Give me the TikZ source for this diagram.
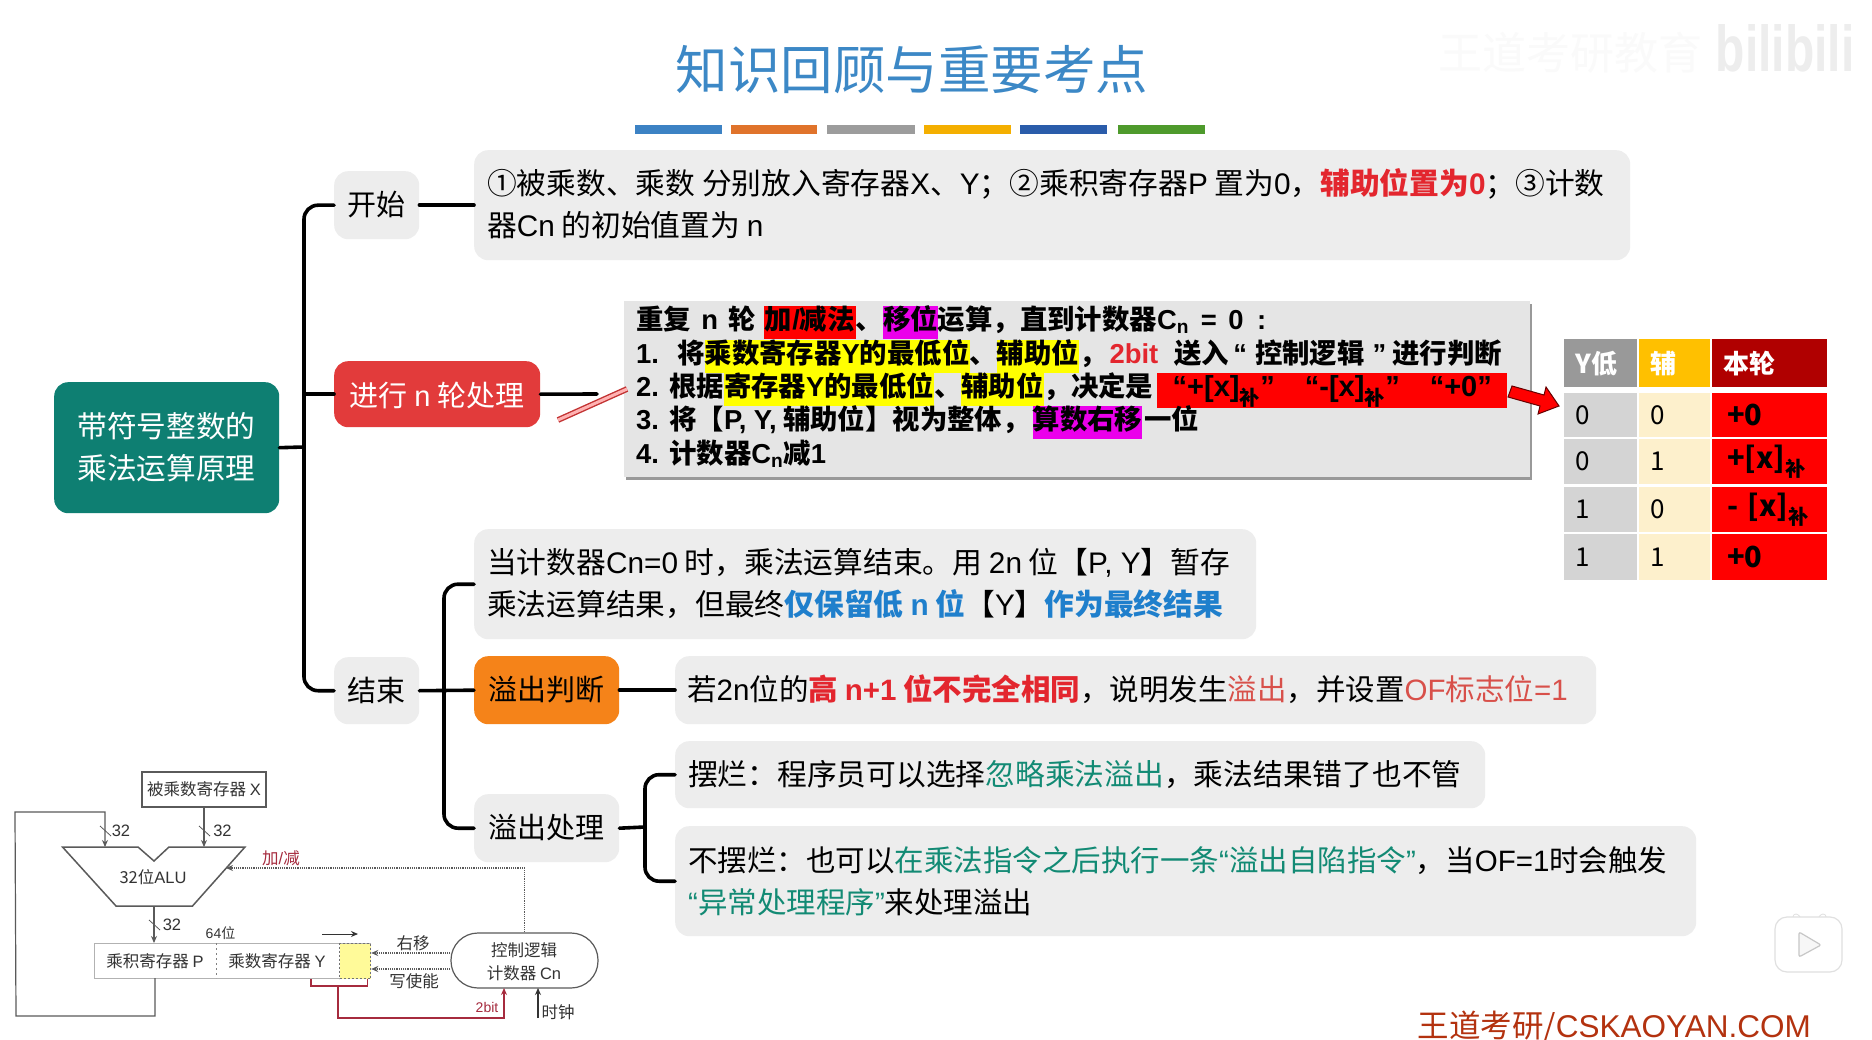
\documentclass[tikz,border=0pt]{standalone}
\usepackage{fontspec}
\usepackage{graphicx}
\setmainfont{Noto Sans CJK SC}
\newfontfamily\liber{Liberation Sans}
\usetikzlibrary{arrows.meta,calc}
\definecolor{tealbox}{HTML}{0E7F72}
\definecolor{greybox}{HTML}{EDEDED}
\definecolor{redbox}{HTML}{E23B3B}
\definecolor{orangebox}{HTML}{F58319}
\definecolor{titleblue}{HTML}{3C88C6}
\definecolor{txtred}{HTML}{E3262E}
\definecolor{softred}{HTML}{D8504A}
\definecolor{txtblue}{HTML}{1F7FCC}
\definecolor{txtgreen}{HTML}{128A74}
\definecolor{darkred}{HTML}{A62B3E}
\definecolor{linegrey}{HTML}{5A5A5A}
\definecolor{footred}{HTML}{B3320F}
\definecolor{mgt}{RGB}{235,0,235}
\definecolor{hlred}{RGB}{255,0,0}
\definecolor{hlyel}{RGB}{255,255,0}
\definecolor{goldhead}{HTML}{FFC000}
\definecolor{goldcell}{HTML}{FDF0CC}
\definecolor{redhead}{HTML}{B00000}
\newcommand\fs[1]{\fontsize{#1}{#1}\selectfont}
\newcommand\hl[2]{{\setlength{\fboxsep}{0pt}\colorbox{#1}{\vrule width 0pt height 24pt depth 9pt #2}}}
\newcommand\bsub[1]{\textsubscript{#1}}
\newcommand\lat[1]{{\liber #1}}
\newcommand\hs[1]{\hspace{#1pt}}
\tikzset{
  conn/.style={line width=3.6pt,black,rounded corners=14pt,line cap=round},
  mbox/.style={anchor=north west,inner sep=0pt,rounded corners=14pt},
  boxtxt/.style={font=\fs{29},text=black,inner sep=0pt},
  linetxt/.style={anchor=base west,font=\fs{29.5},text=black,inner sep=0pt},
  linetxtb/.style={anchor=base west,font=\fs{29.75},text=black,inner sep=0pt},
  boldline/.style={anchor=base west,font=\fs{27.4}\bfseries,text=black,inner sep=0pt},
  cellsty/.style={anchor=north west,inner ysep=0pt,inner xsep=11pt,align=left,font=\fs{26}},
  barsty/.style={anchor=north west,inner sep=0pt,minimum height=9pt},
  thin line/.style={linegrey,line width=1.2pt},
  dot line/.style={linegrey,line width=1.2pt,densely dotted},
  tip/.style={-{Stealth[length=7pt,width=6pt]}},
  small/.style={font=\fs{16.5},text=black!80,inner sep=0pt},
  slash/.style={linegrey,line width=.8pt},
}
\begin{document}
\begin{tikzpicture}[x=1pt,y=-1pt]
\useasboundingbox (0,0) rectangle (1872,1040);
\fill[white] (0,0) rectangle (1872,1040);
% title
\node[font=\fs{52.5},text=titleblue,inner sep=0pt] (title) at (912,70) {知识回顾与重要考点};
\foreach \n/\a/\w/\c in {b1/635/87/3C82C4,b2/731/86/E0732B,b3/827/88/9C9C9C,b4/924/87/F4AF00,b5/1020/87/2A5CAA,b6/1118/87/4E9A2C}{
  \definecolor{tmpc}{HTML}{\c}
  \node[barsty,fill=tmpc,minimum width=\w pt] (\n) at (\a,125) {};
}
% watermark
\node[font=\fs{44},text=black!2,inner sep=0pt] (wm0) at (1570,53) {王道考研教育};
\node[font=\fs{48}\bfseries\liber,text=black!7,inner sep=0pt] (wm) at (1785,48) {\scalebox{1}[1.35]{bilibili}};
% boxes
\node[mbox,fill=tealbox,minimum width=225pt,minimum height=131pt] (root) at (54,382) {};
\node[font=\fs{29.7},text=white,align=center,inner sep=0pt] (roott) at (166.5,447) {带符号整数的\\[12pt]乘法运算原理};
\node[mbox,fill=greybox,minimum width=85pt,minimum height=68pt] (start) at (334,171) {};
\node[boxtxt] (startt) at (376.5,205) {开始};
\node[mbox,fill=greybox,minimum width=1156pt,minimum height=110pt] (startb) at (474,150) {};
\node[linetxtb] (s1) at (487,195) {①被乘数、乘数 分别放入寄存器\lat{X}、\lat{Y}；②乘积寄存器\lat{P} 置为\lat{0}，\textbf{\textcolor{txtred}{辅助位置为\lat{0}}}；③计数};
\node[linetxtb] (s2) at (487,237) {器\lat{Cn} 的初始值置为 \lat{n}};
\node[mbox,fill=redbox,minimum width=206pt,minimum height=66pt] (round) at (334,361) {};
\node[boxtxt,text=white] (roundt) at (437,395) {进行 \lat{n} 轮处理};
% grey panel
\fill[black!40] (626,304) rectangle (1532,480);
\node[anchor=north west,inner sep=0pt,fill=black!10,minimum width=906pt,minimum height=176pt] (panel) at (624,301) {};
\node[boldline] (p1) at (636,330) {重复\hs{4} \lat{n}\hs{4} 轮\hs{2} \hl{hlred}{\hs{1}加\lat{/}减法\hs{1}}、\hl{mgt}{移位}运算，直到计数器\lat{C\bsub{n}\hs{4} =\hs{4} 0\hs{6} :}};
\node[boldline] (p2) at (636,364) {\lat{1.\ \ }\hs{3}将\hl{hlyel}{乘数寄存器\lat{Y}的最低位}、\hl{hlyel}{辅助位}，\hs{3}\textcolor{txtred}{\lat{2bit}}\hs{10} 送入\hs{4}\lat{“}\hs{8}控制逻辑\hs{8}\lat{”}\hs{6}进行判断};
\node[boldline] (p3) at (636,397) {\lat{2. }根据\hl{hlyel}{寄存器\lat{Y}的最低位}、\hl{hlyel}{辅助位}，决定是\hs{4}\hl{hlred}{\makebox[350pt][c]{\fs{29}\lat{“+[x]}\bsub{补}\lat{”\hs{30}“-[x]}\bsub{补}\lat{”\hs{30}“+0”}}}};
\node[boldline] (p4) at (636,430) {\lat{3. }将【\lat{P, Y,} 辅助位】视为整体，\hs{3}\hl{mgt}{算数右移}\hs{2}一位};
\node[boldline] (p5) at (636,464) {\lat{4. }计数器\lat{C\bsub{n}}减\lat{1}};
% table
\node[cellsty,fill=black!40,text=white,minimum height=48pt,text width=51pt] (c00) at (1564,339) {\textbf{Y低}};
\node[cellsty,fill=goldhead,text=white,minimum height=48pt,text width=49pt] (c01) at (1639,339) {\textbf{辅}};
\node[cellsty,fill=redhead,text=white,minimum height=48pt,text width=93pt] (c02) at (1712,339) {\textbf{本轮}};
\foreach \r/\y/\h/\a/\b/\t in {1/393/44/0/0/{+0},2/439/45/0/1/{+[x]\bsub{补}},3/487/45/1/0/{- [x]\bsub{补}},4/534/46/1/1/{+0}}{
  \node[cellsty,fill=black!17,minimum height=\h pt,text width=51pt] (a\r) at (1564,\y) {\a};
  \node[cellsty,fill=goldcell,minimum height=\h pt,text width=49pt] (b\r) at (1639,\y) {\b};
  \node[cellsty,inner xsep=15pt,fill=hlred,minimum height=\h pt,text width=85pt,font=\fs{29}\bfseries] (d\r) at (1712,\y) {\t};
}
% red fat arrow
\draw[black!60!red,fill=hlred,line width=1pt] (1512,386) -- (1544,395) -- (1546,387) -- (1559,406) -- (1538,414) -- (1540,406) -- (1508,397) -- cycle;
% finish
\node[mbox,fill=greybox,minimum width=85pt,minimum height=67pt] (finish) at (334,657) {};
\node[boxtxt] (finisht) at (376.5,690) {结束};
\node[mbox,fill=greybox,minimum width=782pt,minimum height=110pt] (endb) at (474,529) {};
\node[linetxtb] (e1) at (487,573) {当计数器\lat{Cn=0} 时，乘法运算结束。用 \lat{2n} 位【\lat{P, Y}】暂存};
\node[linetxtb] (e2) at (487,615) {乘法运算结果，但最终\textbf{\textcolor{txtblue}{仅保留低 \lat{n} 位}}【\lat{Y}】\textbf{\textcolor{txtblue}{作为最终结果}}};
\node[mbox,fill=orangebox,minimum width=145pt,minimum height=68pt] (ovj) at (474,656) {};
\node[boxtxt] (ovjt) at (546.5,690) {溢出判断};
\node[mbox,fill=greybox,minimum width=921pt,minimum height=68pt] (ovjb) at (675,656) {};
\node[linetxt] (oj) at (687,700) {若\lat{2n}位的\textbf{\textcolor{txtred}{高 \lat{n+1} 位不完全相同}}，说明发生\textcolor{softred}{溢出}，并设置\textcolor{softred}{\lat{OF}标志位\lat{=1}}};
\node[mbox,fill=greybox,minimum width=145pt,minimum height=68pt] (ovh) at (474,794) {};
\node[boxtxt] (ovht) at (546.5,828) {溢出处理};
\node[mbox,fill=greybox,minimum width=810pt,minimum height=67pt] (bl) at (675,741) {};
\node[linetxtb] (bl1) at (688,785) {摆烂：程序员可以选择\textcolor{txtgreen}{忽略乘法溢出}，乘法结果错了也不管};
\node[mbox,fill=greybox,minimum width=1021pt,minimum height=110pt] (nbl) at (675,826) {};
\node[linetxt] (nb1) at (688,871) {不摆烂：也可以\textcolor{txtgreen}{在乘法指令之后执行一条\lat{“}溢出自陷指令\lat{”}}，当\lat{OF=1}时会触发};
\node[linetxt] (nb2) at (688,913) {\textcolor{txtgreen}{\lat{“}异常处理程序\lat{”}}来处理溢出};
% connectors
\coordinate (t0) at (304,447);
\coordinate (t1) at (444,690);
\coordinate (t2) at (645,827);
\draw[conn] (root.east) -- (t0);
\draw[conn] (start.west) -| (t0) |- (finish.west);
\draw[conn] (t0 |- round.west) -- (round.west);
\draw[conn] (start.east) -- (startb.west);
\coordinate (rdEnd) at (597,394);
\draw[conn] (round.east) -- (rdEnd);
\draw[conn] (finish.east) -- (ovj.west);
\draw[conn] (endb.west) -| (t1) |- (ovh.west);
\draw[conn] (ovj.east) -- (ovjb.west);
\draw[conn] (ovh.east) -- (t2);
\draw[conn] (bl.west) -| (t2) |- (nbl.west);
\coordinate (sa) at (558,420);
\coordinate (sb) at (627,389);
\draw[draw=red!70!black!80,double=red!30!white,line width=1.4pt,double distance=3pt] (sa) -- (sb);
% footer
\node[anchor=base east,font=\fs{31.5},text=footred,inner sep=0pt] (foot) at (1811,1037) {王道考研/{\liber CSKAOYAN.COM}};
% play icon
\draw[black!12,line width=7pt,line cap=round] (1796,917) -- (1803,925) (1823,917) -- (1816,925);
\draw[white,line width=5pt,line cap=round] (1796,917) -- (1803,925) (1823,917) -- (1816,925);
\draw[black!12,fill=white,rounded corners=12pt,line width=1.2pt] (1775,917) rectangle (1842,972);
\draw[black!22,fill=black!3,rounded corners=2pt,line width=1.2pt] (1799,932) -- (1821,945) -- (1799,957) -- cycle;
% multiplier circuit
\node[draw=linegrey,line width=1.2pt,small,minimum width=124pt,minimum height=35pt] (X) at (204,789.5) {被乘数寄存器 \lat{X}};
\draw[linegrey,line width=1.5pt] (62.5,847) -- (138,847) -- (154,861) -- (169,847) -- (245,847) -- (192.5,906) -- (116,906) -- cycle;
\node[small] (alu) at (153,877) {32位\lat{ALU}};
\coordinate (aluIn1) at (105,847);
\coordinate (aluIn2) at (204,847);
\coordinate (aluOut) at (154,906);
\coordinate (aluCtl) at (226,868);
\node[anchor=north west,inner sep=0pt,draw=black!30,line width=1pt,minimum width=276pt,minimum height=35pt] (reg) at (94,943) {};
\node[small] (regP) at (155,961) {乘积寄存器 \lat{P}};
\node[small] (regY) at (277,961) {乘数寄存器 \lat{Y}};
\draw[black!50,line width=1pt,dash pattern=on 2pt off 3pt] (216,943) -- (216,978);
\node[anchor=north west,inner sep=0pt,fill=yellow!40,draw=black!55,dash pattern=on 2pt off 2pt,line width=1.2pt,minimum width=31pt,minimum height=35pt] (yel) at (339,943) {};
\coordinate (fb0) at (155,978);
\coordinate (fb1) at (155,1016);
\coordinate (fb2) at (16,1016);
\coordinate (fb3) at (15,812);
\draw[thin line,tip] (fb0) -- (fb1) -- (fb2) -- (fb3) -- (105,812) -- (aluIn1);
\draw[thin line,tip] (X.south) -- (aluIn2);
\draw[thin line,tip] (aluOut) -- (reg.north -| aluOut);
\draw[slash] (100,826) -- (111,836);
\draw[slash] (199,826) -- (210,836);
\draw[slash] (149,920) -- (160,930);
\node[small] (n1) at (121,831) {\lat{32}};
\node[small] (n2) at (222.5,831) {\lat{32}};
\node[small] (n3) at (172,925) {\lat{32}};
\node[small,font=\fs{14}] (w64) at (220.5,933) {\lat{64}位};
\coordinate (sh1) at (322,934);
\coordinate (sh2) at (358,934);
\draw[black!80,line width=1pt,tip] (sh1) -- (sh2);
\node[draw=linegrey,line width=1.2pt,rounded corners=27pt,minimum width=147pt,minimum height=55pt,inner sep=0pt] (ctl) at (524.5,960.5) {};
\node[small] (c1) at (524,950) {控制逻辑};
\node[small] (c2) at (524,973) {计数器 \lat{Cn}};
\draw[dot line,tip] (ctl.west |- 0,953) -- (yel.east |- 0,953);
\draw[dot line,tip] (ctl.west |- 0,969) -- (yel.east |- 0,969);
\node[small] (rs) at (413,943) {右移};
\node[small] (we) at (414,981) {写使能};
\draw[dot line,tip] (ctl.north) -- (ctl.north |- aluCtl) -- (aluCtl);
\node[small,text=darkred] (addsub) at (281,858) {加\lat{/}减};
\draw[darkred,line width=1.4pt] (311,979) -- (311,986) -- (367.5,986) -- (367.5,979);
\draw[darkred,line width=1.4pt,tip] (338,986) -- (338,1018) -- (504,1018) -- (504,988);
\node[small,font=\fs{14},text=darkred] (tb) at (487,1007) {\lat{2bit}};
\draw[thin line,black!80,tip] (538,1018) -- (538,988);
\node[small] (clk) at (558,1012) {时钟};
\end{tikzpicture}
\end{document}
